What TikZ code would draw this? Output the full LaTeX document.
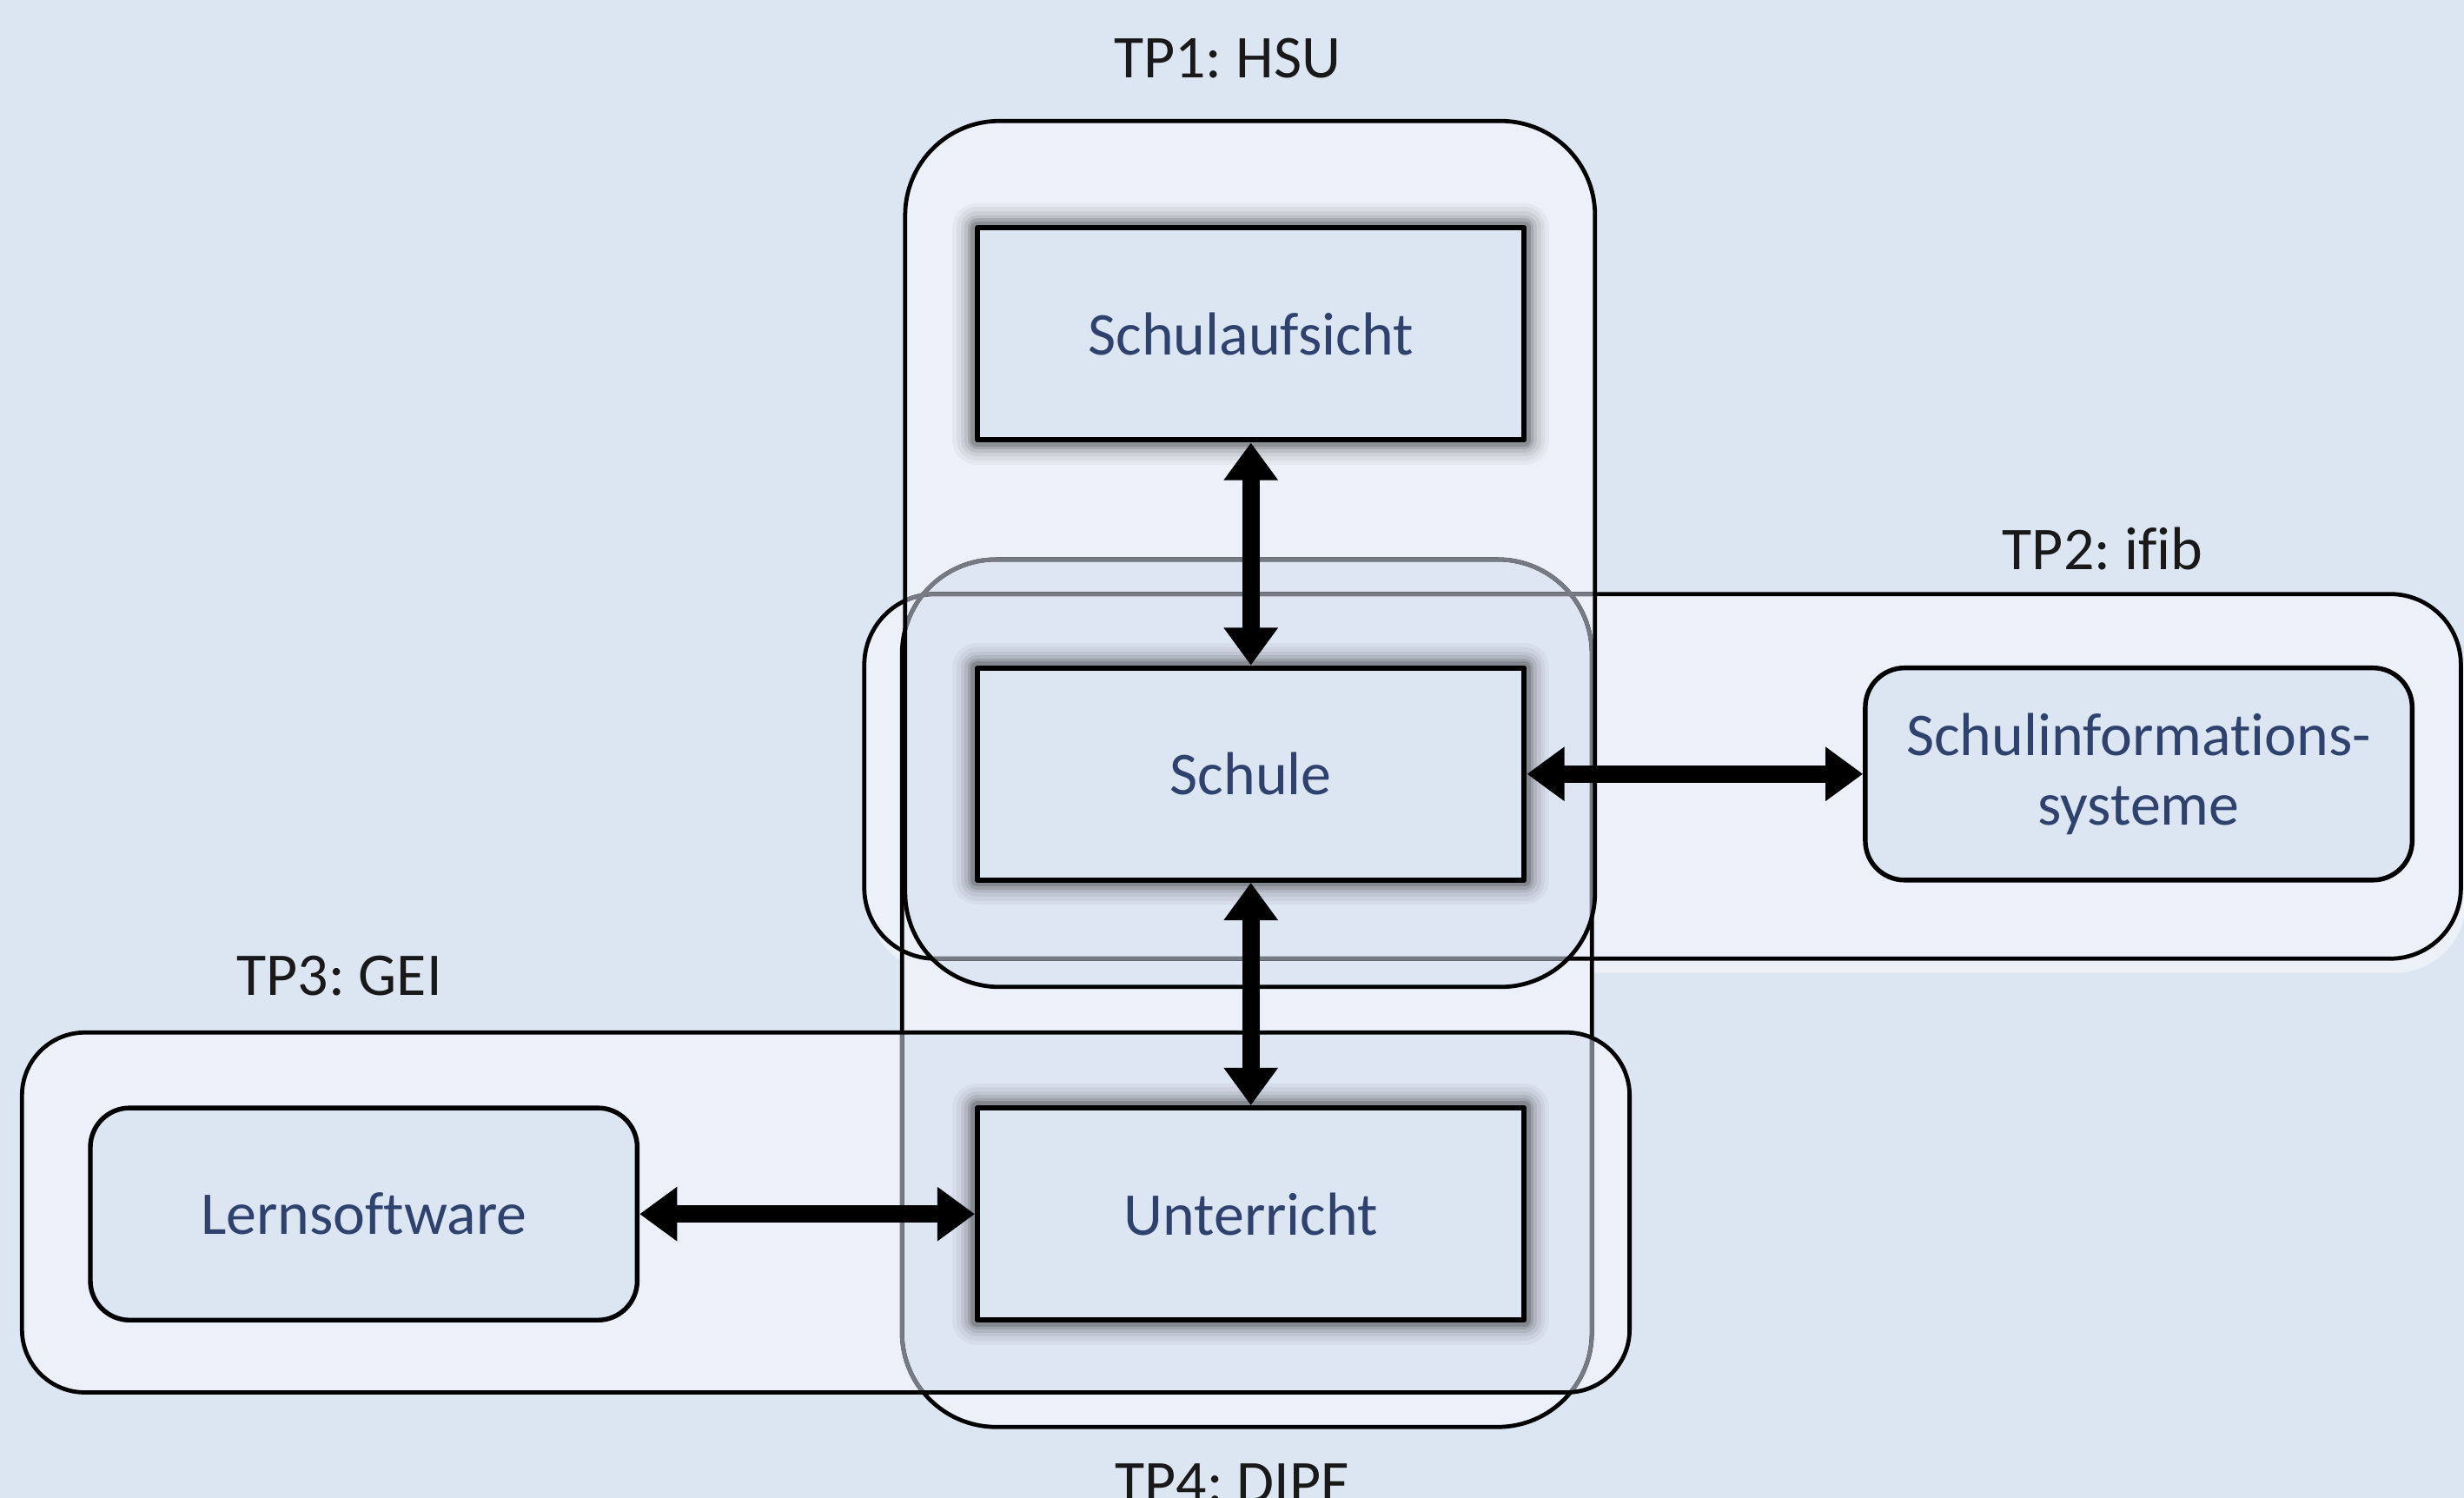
\documentclass[tikz,border=0pt]{standalone}
\usepackage{fontspec}
\setmainfont{Carlito}[Ligatures=NoCommon]
\usetikzlibrary{arrows.meta}
\frenchspacing

\definecolor{bgblue}{RGB}{220,230,242}
\definecolor{grpfill}{RGB}{235,240,249}
\definecolor{ovlfill}{RGB}{222,230,243}
\definecolor{boxtext}{RGB}{47,66,110}
\definecolor{covered}{RGB}{118,122,130}

\tikzset{
  entity/.style={draw=black, line width=0.95pt, fill=bgblue, minimum width=3.48cm, minimum height=1.35cm,
    text=boxtext, font=\fontsize{11}{12.5}\selectfont, align=center},
  extsys/.style={entity, rounded corners=0.25cm, line width=0.85pt},
  haze/.style={line join=round,
    preaction={draw=black, draw opacity=0.035, line width=9pt},
    preaction={draw=black, draw opacity=0.045, line width=7.5pt},
    preaction={draw=black, draw opacity=0.06, line width=6pt},
    preaction={draw=black, draw opacity=0.08, line width=4.6pt},
    preaction={draw=black, draw opacity=0.11, line width=3.4pt},
    preaction={draw=black, draw opacity=0.15, line width=2.4pt}},
  tplabel/.style={font=\fontsize{11}{13}\selectfont, text=black!90},
  grpline/.style={draw=black, line width=0.75pt},
  link/.style={line width=3.2pt, {Triangle[width=9.4pt,length=6.8pt]}-{Triangle[width=9.4pt,length=6.8pt]}},
}

\begin{document}
\begin{tikzpicture}
\clip (0,0) rectangle (15.68,9.53);
\fill[bgblue] (0,0) rectangle (15.68,9.53);

% corners of the four project areas
\coordinate (tp1a) at (5.76,3.25);  \coordinate (tp1b) at (10.15,8.76);
\coordinate (tp2a) at (5.50,3.43);  \coordinate (tp2b) at (15.66,5.75);
\coordinate (tp3a) at (0.14,0.67);  \coordinate (tp3b) at (10.37,2.96);
\coordinate (tp4a) at (5.74,0.45);  \coordinate (tp4b) at (10.13,5.97);

% fills
\fill[white, opacity=0.45, rounded corners=0.45cm] ([shift={(0.03,-0.09)}]tp2a) rectangle ([shift={(0.03,-0.09)}]tp2b);
\fill[grpfill, rounded corners=0.45cm] (tp2a) rectangle (tp2b);
\fill[grpfill, rounded corners=0.6cm] (tp4a) rectangle (tp4b);
\fill[grpfill, rounded corners=0.6cm] (tp1a) rectangle (tp1b);
\fill[grpfill, rounded corners=0.4cm] (tp3a) rectangle (tp3b);
\begin{scope}
  \clip[rounded corners=0.6cm] (tp1a) rectangle (tp1b);
  \fill[ovlfill, rounded corners=0.6cm] (tp4a) rectangle (tp4b);
\end{scope}
\begin{scope}
  \clip[rounded corners=0.4cm] (tp3a) rectangle (tp3b);
  \fill[ovlfill, rounded corners=0.6cm] (tp4a) rectangle (tp4b);
\end{scope}

% outlines
\draw[grpline, rounded corners=0.45cm] (tp2a) rectangle (tp2b);
\draw[grpline, rounded corners=0.6cm] (tp4a) rectangle (tp4b);
\begin{scope}
  \clip[rounded corners=0.6cm] (tp1a) rectangle (tp1b);
  \draw[grpline, draw=covered, rounded corners=0.45cm] (tp2a) rectangle (tp2b);
  \draw[grpline, draw=covered, rounded corners=0.6cm] (tp4a) rectangle (tp4b);
\end{scope}
\begin{scope}
  \clip[rounded corners=0.4cm] (tp3a) rectangle (tp3b);
  \draw[grpline, draw=covered, rounded corners=0.6cm] (tp4a) rectangle (tp4b);
\end{scope}
\draw[grpline, rounded corners=0.6cm] (tp1a) rectangle (tp1b);
\draw[grpline, rounded corners=0.4cm] (tp3a) rectangle (tp3b);

% labels
\node[tplabel] (tp1) at (7.81,9.16) {TP1: HSU};
\node[tplabel] (tp2) at (13.38,6.04) {TP2: ifib};
\node[tplabel] (tp3) at (2.16,3.32) {TP3: GEI};
\node[tplabel, anchor=base] (tp4) at (7.84,-0.03) {TP4: DIPF};

% boxes
\node[entity, haze] (aufsicht) at (7.96,7.405) {Schulaufsicht};
\node[entity, haze] (schule) at (7.96,4.605) {Schule};
\node[entity, haze] (unterricht) at (7.96,1.805) {Unterricht};
\node[extsys] (lernsw) at (2.315,1.805) {Lernsoftware};
\node[extsys] (sis) at (13.61,4.605) {Schulinformations-\\systeme};

% arrows
\draw[link] (aufsicht) -- (schule);
\draw[link] (schule) -- (sis);
\draw[link] (schule) -- (unterricht);
\draw[link] (lernsw) -- (unterricht);
\end{tikzpicture}
\end{document}
